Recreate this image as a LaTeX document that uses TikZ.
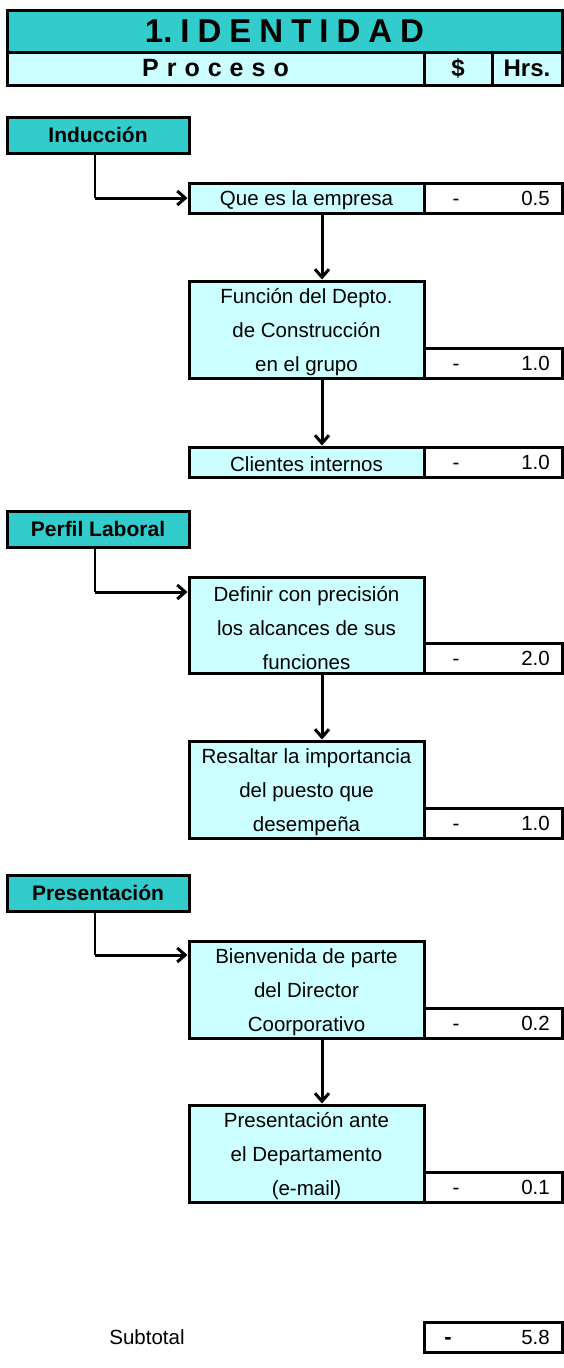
\documentclass[tikz,border=0pt]{standalone}
\usepackage{fontspec}
\setmainfont{Liberation Sans}
\usetikzlibrary{arrows.meta}
\definecolor{tealhd}{HTML}{33CCCC}
\definecolor{lcyan}{HTML}{CCFFFF}
\newcommand\gp{\hspace{8pt}}
\begin{document}
\begin{tikzpicture}[x=1pt,y=-1pt,
  box/.style={draw, line width=3pt, inner sep=0pt, outer sep=0pt, anchor=north west},
  sec/.style={box, fill=tealhd, font=\bfseries\fontsize{21}{24}\selectfont, minimum width=182pt, minimum height=36pt},
  proc/.style={box, fill=lcyan, minimum width=235pt},
  ptext/.style={font=\fontsize{20.5}{34}\selectfont, align=center, inner sep=0pt},
  val/.style={box, fill=white, minimum width=138pt, minimum height=30pt},
  txt/.style={font=\fontsize{20.5}{24}\selectfont, inner sep=0pt, anchor=base},
  thinline/.style={line width=1.5pt},
  arr/.style={line width=3pt, -{Straight Barb[length=8pt,width=14pt]}, shorten >=1.5pt}
]
\useasboundingbox (0,0) rectangle (564,1368);
% header
\node[box, fill=tealhd, minimum width=555pt, minimum height=42pt, font=\bfseries\fontsize{33}{36}\selectfont] (title) at (7,10) {1.\gp I\gp D\gp E\gp N\gp T\gp I\gp D\gp A\gp D};
\node[box, fill=lcyan, minimum width=417pt, minimum height=33pt, font=\bfseries\fontsize{25}{28}\selectfont] (proceso) at (7,52) {P\gp r\gp o\gp c\gp e\gp s\gp o};
\node[box, fill=lcyan, minimum width=68pt, minimum height=33pt, font=\bfseries\fontsize{24}{28}\selectfont] (dollar) at (424,52) {\$};
\node[box, fill=lcyan, minimum width=70pt, minimum height=33pt, font=\bfseries\fontsize{24}{28}\selectfont] (hrs) at (492,52) {Hrs.};

% sections
\node[sec] (s1) at (7,117) {Inducción};
\node[sec] (s2) at (7,511) {Perfil Laboral};
\node[sec] (s3) at (7,875) {Presentación};

% process boxes
\node[proc, minimum height=30pt] (p1) at (189,183) {};
\node[proc, minimum height=97pt] (p2) at (189,281) {};
\node[proc, minimum height=30pt] (p3) at (189,447) {};
\node[proc, minimum height=96pt] (p4) at (189,577) {};
\node[proc, minimum height=97pt] (p5) at (189,741) {};
\node[proc, minimum height=97pt] (p6) at (189,941) {};
\node[proc, minimum height=97pt] (p7) at (189,1105) {};
\node[ptext] (p1t) at ([yshift=-2pt]p1.center) {Que es la empresa};
\node[ptext] (p2t) at ([yshift=-3pt]p2.center) {Función del Depto.\\de Construcción\\en el grupo};
\node[ptext] (p3t) at ([yshift=-2pt]p3.center) {Clientes internos};
\node[ptext] (p4t) at ([yshift=-3pt]p4.center) {Definir con precisión\\los alcances de sus\\funciones};
\node[ptext] (p5t) at ([yshift=-3pt]p5.center) {Resaltar la importancia\\del puesto que\\desempeña};
\node[ptext] (p6t) at ([yshift=-3pt]p6.center) {Bienvenida de parte\\del Director\\Coorporativo};
\node[ptext] (p7t) at ([yshift=-3pt]p7.center) {Presentación ante\\el Departamento\\(e-mail)};

% value boxes
\node[val] (v1) at (424,183) {};
\node[val] (v2) at (424,348) {};
\node[val] (v3) at (424,447) {};
\node[val] (v4) at (424,643) {};
\node[val] (v5) at (424,808) {};
\node[val] (v6) at (424,1008) {};
\node[val] (v7) at (424,1172) {};
\node[val] (vt) at (424,1322) {};

\foreach \v/\n in {v1/0.5, v2/1.0, v3/1.0, v4/2.0, v5/1.0, v6/0.2, v7/0.1} {
  \node[txt] (\v d) at ([xshift=32pt,yshift=-7.5pt]\v.west) {-};
  \node[txt, anchor=base east] (\v n) at ([xshift=-12pt,yshift=-7.5pt]\v.east) {\n};
}
\node[txt, font=\bfseries\fontsize{22}{24}\selectfont] (vtd) at ([xshift=24pt,yshift=-7.5pt]vt.west) {-};
\node[txt, anchor=base east] (vtn) at ([xshift=-12pt,yshift=-7.5pt]vt.east) {5.8};
\coordinate (stx) at (147,0);
\node[txt] (subtotal) at ([yshift=-7.5pt]vt.west -| stx) {Subtotal};

% section connectors
\coordinate (c1) at (95,198);
\coordinate (c2) at (95,592);
\coordinate (c3) at (95,955);
\draw[thinline] (s1.south -| c1) -- (c1);
\draw[arr] (c1) -- (c1 -| p1.west);
\draw[thinline] (s2.south -| c2) -- (c2);
\draw[arr] (c2) -- (c2 -| p4.west);
\draw[thinline] (s3.south -| c3) -- (c3);
\draw[arr] (c3) -- (c3 -| p6.west);

% vertical arrows
\draw[arr] ([xshift=15.5pt]p1.south) -- ([xshift=15.5pt]p2.north);
\draw[arr] ([xshift=15.5pt]p2.south) -- ([xshift=15.5pt]p3.north);
\draw[arr] ([xshift=15.5pt]p4.south) -- ([xshift=15.5pt]p5.north);
\draw[arr] ([xshift=15.5pt]p6.south) -- ([xshift=15.5pt]p7.north);
\end{tikzpicture}
\end{document}
